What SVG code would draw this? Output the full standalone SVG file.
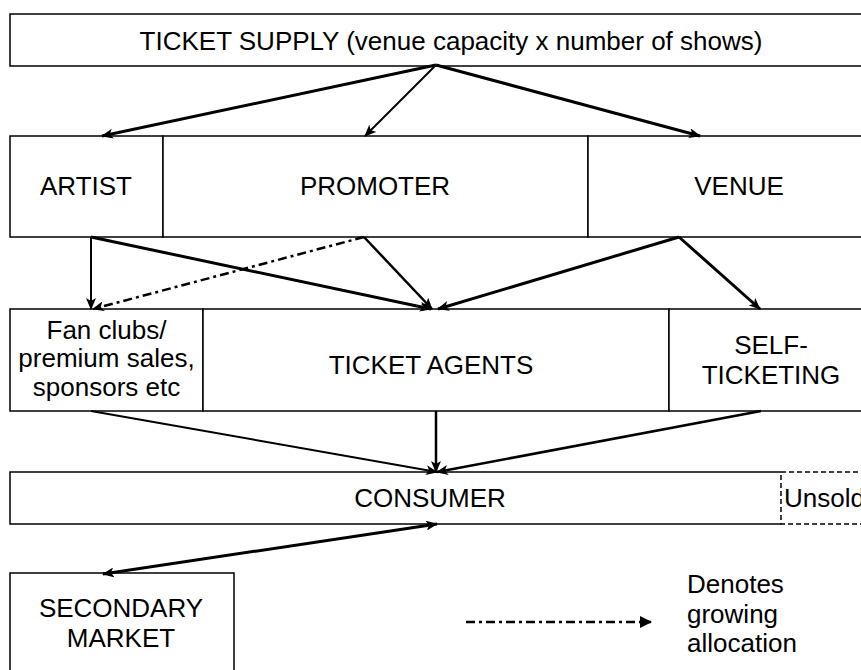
<svg xmlns="http://www.w3.org/2000/svg" width="861" height="670" viewBox="0 0 861 670">
<defs>
<style>
.box{fill:#fff;stroke:#000;stroke-width:1.5}
.dash{fill:none;stroke:#000;stroke-width:1.5;stroke-dasharray:5 3}
.t{font-family:"Liberation Sans",Arial,sans-serif;font-size:26px;fill:#000}
.c{text-anchor:middle}
.ln{fill:none;stroke:#000;marker-end:url(#ah)}
.dd{fill:none;stroke:#000;stroke-width:2.5;stroke-dasharray:9 4 3 4;marker-end:url(#ah)}
</style>
<marker id="ah" viewBox="0 0 12 10" markerWidth="12" markerHeight="10" refX="11" refY="5" orient="auto" markerUnits="userSpaceOnUse">
<path d="M0,0 L12,5 L0,10 L3,5 z" fill="#000"/>
</marker>
<marker id="ahs" viewBox="0 0 12 10" markerWidth="12" markerHeight="10" refX="1" refY="5" orient="auto" markerUnits="userSpaceOnUse">
<path d="M12,0 L0,5 L12,10 L9,5 z" fill="#000"/>
</marker>
<marker id="ahl" viewBox="0 0 12 12" markerWidth="12" markerHeight="12" refX="11" refY="6" orient="auto" markerUnits="userSpaceOnUse">
<path d="M0,0 L12,6 L0,12 z" fill="#000"/>
</marker>
</defs>
<rect width="861" height="670" fill="#fff"/>

<g id="supply">
<rect class="box" x="10" y="14" width="880" height="52"/>
<text class="t c" x="451" y="50">TICKET SUPPLY (venue capacity x number of shows)</text>
</g>

<g id="artist">
<rect class="box" x="10" y="136" width="153" height="101"/>
<text class="t c" x="86" y="195">ARTIST</text>
</g>
<g id="promoter">
<rect class="box" x="163" y="136" width="425" height="101"/>
<text class="t c" x="375" y="195">PROMOTER</text>
</g>
<g id="venue">
<rect class="box" x="588" y="136" width="302" height="101"/>
<text class="t c" x="739" y="195">VENUE</text>
</g>

<g id="fanclubs">
<rect class="box" x="10" y="309" width="193" height="102"/>
<text class="t c" x="106.5" y="339">Fan clubs/</text>
<text class="t c" x="106.5" y="367">premium sales,</text>
<text class="t c" x="106.5" y="396">sponsors etc</text>
</g>
<g id="ticketagents">
<rect class="box" x="203" y="309" width="466" height="102"/>
<text class="t c" x="431" y="374">TICKET AGENTS</text>
</g>
<g id="selfticketing">
<rect class="box" x="669" y="309" width="221" height="102"/>
<text class="t c" x="771" y="354">SELF-</text>
<text class="t c" x="771" y="384">TICKETING</text>
</g>

<g id="consumer">
<path class="box" d="M781,472 H10 V524 H781"/>
<text class="t c" x="430" y="507">CONSUMER</text>
</g>
<g id="unsold">
<rect class="dash" x="781" y="472" width="120" height="52"/>
<text class="t" x="784" y="507">Unsold</text>
</g>

<g id="secondary">
<rect class="box" x="10" y="573" width="224" height="120"/>
<text class="t c" x="121" y="617">SECONDARY</text>
<text class="t c" x="121" y="647">MARKET</text>
</g>

<g id="legend">
<line x1="466" y1="622" x2="651" y2="622" fill="none" stroke="#000" stroke-width="2.5" stroke-dasharray="9 4 3 4" marker-end="url(#ahl)"/>
<text class="t" x="687" y="593">Denotes</text>
<text class="t" x="687" y="623">growing</text>
<text class="t" x="687" y="652">allocation</text>
</g>

<g id="connectors">
<line class="ln" stroke-width="3" x1="436" y1="65" x2="102" y2="136"/>
<line class="ln" stroke-width="2" x1="436" y1="65" x2="365" y2="136"/>
<line class="ln" stroke-width="3" x1="436" y1="65" x2="700" y2="136"/>

<line class="ln" stroke-width="2" x1="91" y1="237" x2="91" y2="309"/>
<line class="ln" stroke-width="3" x1="91" y1="237" x2="431" y2="309"/>
<line class="dd" x1="364" y1="237" x2="93" y2="309"/>
<line class="ln" stroke-width="2.5" x1="364" y1="237" x2="432" y2="309"/>
<line class="ln" stroke-width="3" x1="679" y1="237" x2="438" y2="309"/>
<line class="ln" stroke-width="3" x1="679" y1="237" x2="760" y2="309"/>

<line class="ln" stroke-width="2" x1="91" y1="411" x2="437" y2="472"/>
<line class="ln" stroke-width="2.5" x1="436" y1="411" x2="436" y2="472"/>
<line class="ln" stroke-width="2.5" x1="761" y1="411" x2="437" y2="472"/>

<line class="ln" stroke-width="3" x1="437" y1="524" x2="103" y2="574" marker-start="url(#ahs)"/>
</g>
</svg>
